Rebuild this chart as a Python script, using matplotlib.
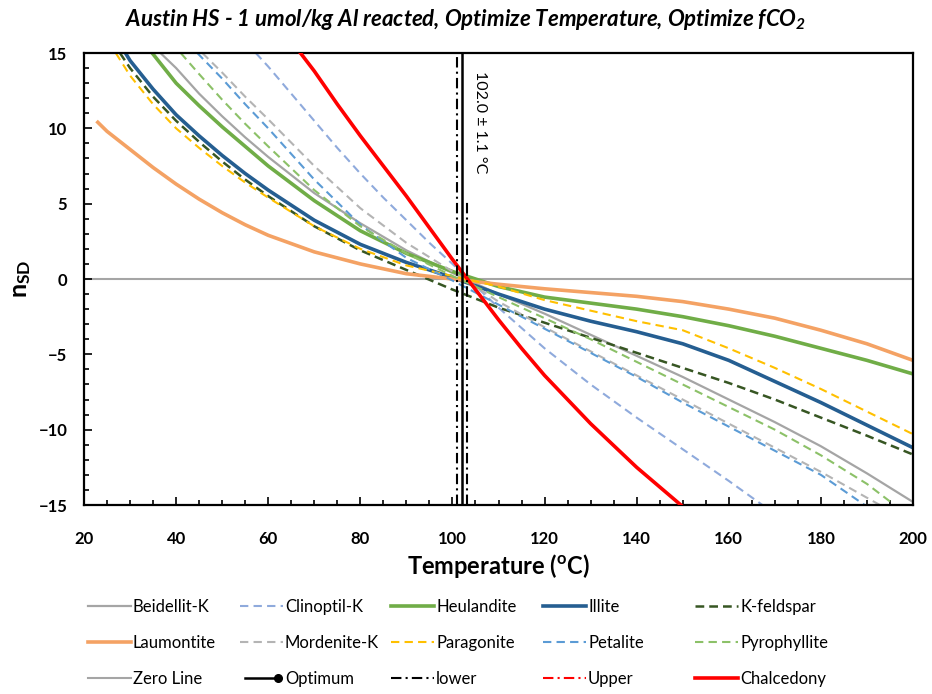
import matplotlib
matplotlib.use("Agg")
import matplotlib.pyplot as plt
from matplotlib.lines import Line2D
from matplotlib.legend_handler import HandlerLine2D
from matplotlib.ticker import MultipleLocator

plt.rcParams['font.family'] = ['Lato', 'DejaVu Sans']
plt.rcParams['mathtext.default'] = 'regular'

# saturation index curves (n_SD) versus temperature for each mineral
beid_T = [36.6, 40, 45, 50, 55, 60, 70, 80, 90, 100, 110, 120, 130, 140, 150, 160, 170, 180, 190, 200]
beid_n = [15, 14.0, 12.3, 10.8, 9.4, 8.1, 5.7, 3.7, 1.9, 0.4, -1.0, -2.3, -3.7, -5.1, -6.5, -8.0, -9.5, -11.1, -12.9, -14.8]

clino_T = [57.3, 60, 65, 70, 75, 80, 85, 90, 95, 100, 110, 120, 130, 140, 150, 160, 167.3]
clino_n = [15, 14.1, 12.3, 10.5, 8.7, 7.0, 5.4, 3.9, 2.4, 1.0, -1.9, -4.6, -7.0, -9.2, -11.3, -13.4, -15]

heul_T = [34.8, 40, 45, 50, 55, 60, 70, 80, 90, 100, 110, 120, 130, 140, 150, 160, 170, 180, 190, 200]
heul_n = [15, 13.0, 11.5, 10.1, 8.8, 7.5, 5.2, 3.2, 1.7, 0.5, -0.5, -1.2, -1.6, -2.0, -2.5, -3.1, -3.8, -4.6, -5.4, -6.3]

illite_T = [29, 30, 35, 40, 45, 50, 55, 60, 70, 80, 90, 100, 110, 120, 130, 140, 150, 160, 170, 180, 190, 200]
illite_n = [15, 14.5, 12.6, 10.9, 9.5, 8.2, 7.0, 5.9, 3.9, 2.3, 1.1, 0.1, -1.0, -2.0, -2.8, -3.5, -4.3, -5.4, -6.8, -8.2, -9.7, -11.2]

kfeld_T = [27.8, 30, 35, 40, 45, 50, 55, 60, 70, 80, 90, 100, 110, 120, 130, 140, 150, 160, 170, 180, 190, 200]
kfeld_n = [15, 14.0, 12.1, 10.5, 9.1, 7.8, 6.6, 5.5, 3.5, 1.9, 0.6, -0.7, -1.9, -2.9, -3.9, -4.9, -5.9, -6.9, -8.0, -9.2, -10.4, -11.65]

laum_T = [23, 25, 30, 35, 40, 45, 50, 55, 60, 70, 80, 90, 100, 110, 120, 130, 140, 150, 160, 170, 180, 190, 200]
laum_n = [10.4, 9.8, 8.6, 7.4, 6.3, 5.3, 4.4, 3.6, 2.9, 1.8, 1.0, 0.35, 0.0, -0.35, -0.65, -0.9, -1.15, -1.5, -2.0, -2.6, -3.4, -4.3, -5.4]

mord_T = [45.7, 50, 55, 60, 70, 80, 90, 100, 110, 120, 130, 140, 150, 160, 170, 180, 192.8]
mord_n = [15, 13.7, 12.1, 10.6, 7.5, 4.7, 2.4, 0.5, -1.5, -3.2, -4.8, -6.4, -8.0, -9.6, -11.2, -12.8, -15]

parag_T = [26.9, 30, 35, 40, 45, 50, 55, 60, 70, 80, 90, 100, 110, 120, 130, 140, 150, 160, 170, 180, 190, 200]
parag_n = [15, 13.5, 11.6, 10.0, 8.7, 7.5, 6.4, 5.4, 3.5, 2.0, 0.9, 0.2, -0.5, -1.4, -2.1, -2.8, -3.4, -4.6, -5.9, -7.3, -8.8, -10.3]

petal_T = [44.6, 50, 55, 60, 70, 80, 90, 100, 110, 120, 130, 140, 150, 160, 170, 180, 189.5]
petal_n = [15, 13.3, 11.6, 10.0, 6.6, 3.6, 1.4, -0.1, -1.7, -3.3, -4.9, -6.5, -8.2, -9.8, -11.4, -13.0, -15]

pyro_T = [41.0, 45, 50, 55, 60, 70, 80, 90, 100, 110, 120, 130, 140, 150, 160, 170, 180, 190, 196]
pyro_n = [15, 13.6, 11.9, 10.3, 8.8, 5.9, 3.5, 1.7, 0.2, -1.2, -2.6, -4.0, -5.5, -7.0, -8.5, -10.0, -11.7, -13.6, -15]

chalc_T = [67, 70, 75, 80, 85, 90, 95, 100, 105, 110, 115, 120, 130, 140, 149.6]
chalc_n = [15, 13.8, 11.6, 9.5, 7.5, 5.5, 3.4, 1.3, -0.7, -2.7, -4.6, -6.4, -9.6, -12.5, -15]

zero_T = [20, 200]
zero_n = [0, 0]

t_opt = 102.0
t_err = 1.1
upper_top = 5.3

DASH = (4, 2.5)
DASHDOT = (5, 2, 1, 2)

styles = {
    'Beidellit-K': dict(color='#A5A5A5', lw=1.6),
    'Clinoptil-K': dict(color='#8FAADC', lw=1.5, dashes=DASH),
    'Heulandite': dict(color='#70AD47', lw=2.6),
    'Illite': dict(color='#255E91', lw=2.6),
    'K-feldspar': dict(color='#375623', lw=1.8, dashes=(3.5, 2)),
    'Laumontite': dict(color='#F4A264', lw=2.6),
    'Mordenite-K': dict(color='#B4B4B4', lw=1.5, dashes=DASH),
    'Paragonite': dict(color='#FFC000', lw=1.5, dashes=DASH),
    'Petalite': dict(color='#5B9BD5', lw=1.5, dashes=DASH),
    'Pyrophyllite': dict(color='#8CC168', lw=1.5, dashes=DASH),
    'Zero Line': dict(color='#A5A5A5', lw=1.5),
    'Optimum': dict(color='black', lw=1.8),
    'lower': dict(color='black', lw=1.5, dashes=DASHDOT),
    'Upper': dict(color='#FF0000', lw=1.5, dashes=DASHDOT),
    'Chalcedony': dict(color='#FF0000', lw=2.6),
}


class EndDotHandler(HandlerLine2D):
    """Legend line with a single marker at its right end."""
    def create_artists(self, *args, **kwargs):
        artists = super().create_artists(*args, **kwargs)
        for a in artists:
            a.set_markevery([len(a.get_xdata()) - 1])
        return artists


fig = plt.figure(figsize=(9.32, 6.94), dpi=100)
ax = fig.add_axes([84 / 932, 1 - 505 / 694, (913 - 84) / 932, (505 - 53) / 694])

ax.plot(zero_T, zero_n, zorder=1, **styles['Zero Line'])
ax.plot(beid_T, beid_n, **styles['Beidellit-K'])
ax.plot(clino_T, clino_n, **styles['Clinoptil-K'])
ax.plot(heul_T, heul_n, **styles['Heulandite'])
ax.plot(illite_T, illite_n, **styles['Illite'])
ax.plot(kfeld_T, kfeld_n, **styles['K-feldspar'])
ax.plot(laum_T, laum_n, **styles['Laumontite'])
ax.plot(mord_T, mord_n, **styles['Mordenite-K'])
ax.plot(parag_T, parag_n, **styles['Paragonite'])
ax.plot(petal_T, petal_n, **styles['Petalite'])
ax.plot(pyro_T, pyro_n, **styles['Pyrophyllite'])
ax.plot(chalc_T, chalc_n, zorder=5, **styles['Chalcedony'])

# optimum temperature and its error bounds
ax.axvline(t_opt, zorder=6, **styles['Optimum'])
ax.axvline(t_opt - t_err, zorder=6, **styles['lower'])
ax.plot([t_opt + t_err, t_opt + t_err], [-15, upper_top], color='black', lw=1.5,
        dashes=DASHDOT, zorder=6)
ax.text(t_opt + 4.0, 13.8, '102.0 \u00b1 1.1 \u00b0C', rotation=270, ha='center', va='top',
        fontsize=11.5)

ax.set_xlim(20, 200)
ax.set_ylim(-15, 15)
ax.xaxis.set_major_locator(MultipleLocator(20))
ax.xaxis.set_minor_locator(MultipleLocator(5))
ax.yaxis.set_major_locator(MultipleLocator(5))
ax.yaxis.set_minor_locator(MultipleLocator(1))
ax.tick_params(which='both', direction='in', width=1.2)
ax.tick_params(which='major', length=6)
ax.tick_params(which='minor', length=3.5)
ax.tick_params(axis='x', pad=19)
ax.tick_params(axis='y', pad=12)
for lab in ax.get_xticklabels() + ax.get_yticklabels():
    lab.set_fontweight('bold')
    lab.set_fontsize(12)
for sp in ax.spines.values():
    sp.set_linewidth(1.6)

ax.set_xlabel('Temperature ($^{o}$C)', fontsize=17, fontweight='bold', labelpad=3)
ax.set_ylabel('n$_{SD}$', fontsize=18, fontweight='bold', labelpad=4)
fig.suptitle('Austin HS - 1 umol/kg Al reacted, Optimize Temperature, Optimize fCO$_2$',
             x=0.5, y=1 - 7 / 694, fontsize=16, fontweight='bold', style='italic')

# legend: five columns, three rows each
columns = [
    ['Beidellit-K', 'Laumontite', 'Zero Line'],
    ['Clinoptil-K', 'Mordenite-K', 'Optimum'],
    ['Heulandite', 'Paragonite', 'lower'],
    ['Illite', 'Petalite', 'Upper'],
    ['K-feldspar', 'Pyrophyllite', 'Chalcedony'],
]
col_x = [88, 240, 391, 543, 695]
for x0, names in zip(col_x, columns):
    handles = []
    hmap = {}
    for name in names:
        h = Line2D([], [], **styles[name])
        if name == 'Optimum':
            h.set_marker('o')
            h.set_markersize(5.5)
            hmap[h] = EndDotHandler(numpoints=2)
        handles.append(h)
    fig.legend(handles, names, loc='upper left', bbox_to_anchor=(x0 / 932, 1 - 599 / 694),
               frameon=False, fontsize=12, handlelength=2.6, handletextpad=0.1,
               labelspacing=1.2, borderaxespad=0, borderpad=0, handler_map=hmap)

fig.savefig('out.png', dpi=100)
